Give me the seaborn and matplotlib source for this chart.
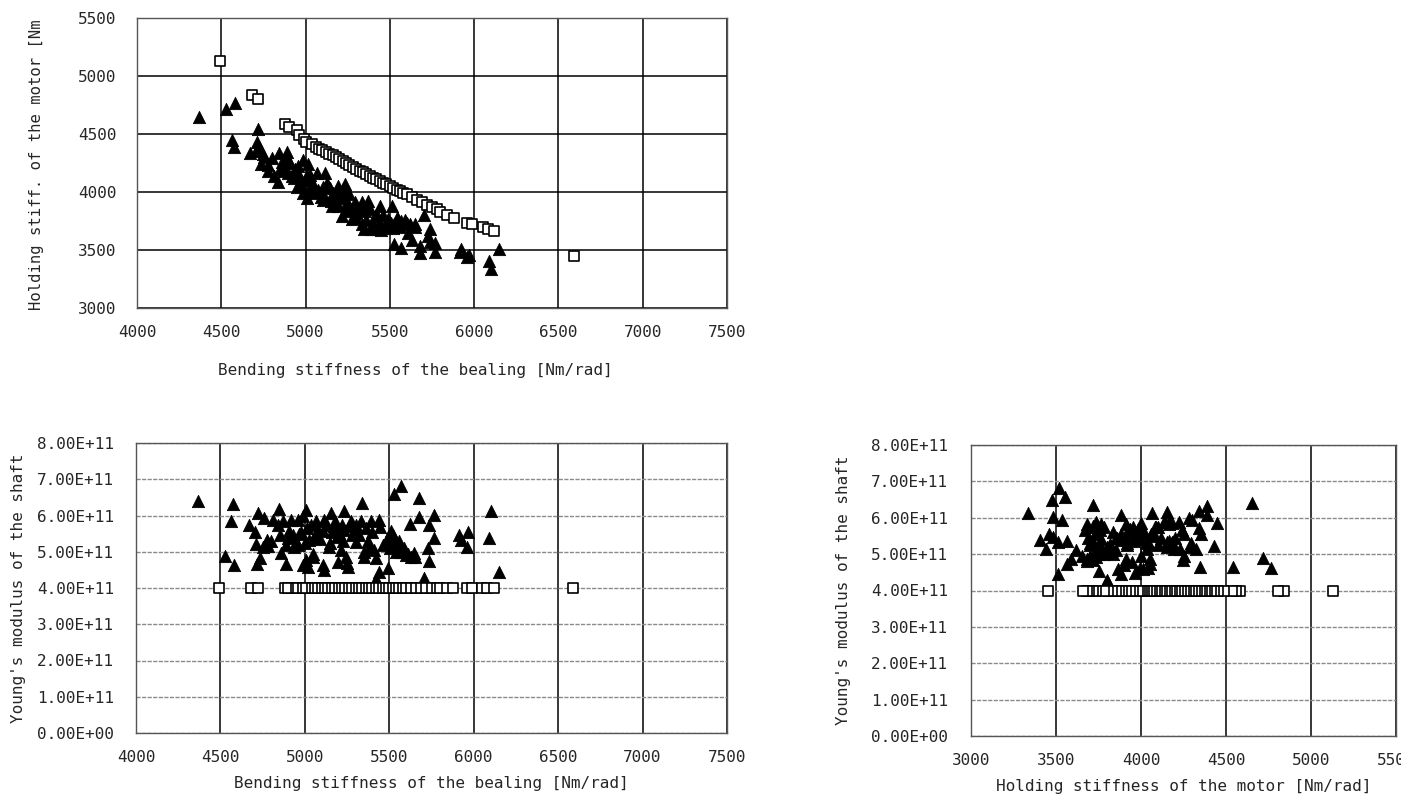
import numpy as np
import pandas as pd
import matplotlib
matplotlib.use("Agg")
import matplotlib.pyplot as plt
from matplotlib.ticker import FuncFormatter, MultipleLocator
from matplotlib.transforms import Bbox, TransformedBbox
import seaborn as sns

# triangles: bending stiffness, holding stiffness [Nm/rad], Young's modulus [x1e11]
tri_bending = [4370, 4530, 4563, 4573, 4580, 4672, 4705, 4711, 4717, 4721,
               4737, 4750, 4756, 4776, 4800, 4810, 4839, 4845, 4859, 4889,
               4898, 4908, 4918, 4938, 4948, 4957, 4967, 4987, 4987, 5007,
               5007, 5013, 5017, 5026, 5046, 5056, 5066, 5105, 5105, 5111,
               5115, 5145, 5155, 5174, 5194, 5204, 5214, 5234, 5234, 5243,
               5253, 5273, 5293, 5302, 5332, 5336, 5348, 5352, 5372, 5391,
               5411, 5421, 5421, 5441, 5441, 5447, 5490, 5494, 5506, 5510,
               5526, 5526, 5546, 5569, 5569, 5599, 5622, 5629, 5648, 5677,
               5677, 5703, 5727, 5737, 5737, 5766, 5766, 5914, 5924, 5959,
               5967, 6090, 6100, 6150,
               4930, 4960, 4975, 5000, 5035, 5075, 5090, 5130, 5160, 5180,
               5190, 5220, 5225, 5260, 5280, 5300, 5320, 5360, 5380, 5400,
               5460, 5480, 5520, 5540, 5560, 5590, 5610, 5650, 4780, 4850,
               4890, 4870, 5250, 5050, 5150]
tri_holding = [4650, 4715, 4445, 4390, 4765, 4340, 4355, 4430, 4540, 4390,
               4245, 4325, 4300, 4180, 4295, 4135, 4090, 4340, 4255, 4345,
               4165, 4250, 4140, 4195, 4045, 4225, 4080, 4280, 3995, 4150,
               3945, 4240, 4010, 4150, 4050, 3995, 4165, 3935, 4040, 3965,
               4165, 4035, 3880, 3935, 4050, 3965, 3795, 4065, 3835, 3910,
               3865, 3765, 3910, 3820, 3910, 3720, 3680, 3835, 3920, 3680,
               3795, 3680, 3800, 3735, 3880, 3670, 3765, 3750, 3735, 3880,
               3550, 3720, 3765, 3520, 3750, 3735, 3720, 3590, 3700, 3478,
               3535, 3800, 3620, 3680, 3565, 3485, 3563, 3483, 3510, 3442,
               3460, 3405, 3333, 3511,
               4120, 4150, 4060, 4100, 4100, 4020, 3960, 4080, 3990, 4000,
               3880, 3950, 4030, 3980, 3850, 3780, 3860, 3760, 3850, 3730,
               3800, 3700, 3690, 3780, 3700, 3760, 3650, 3720, 4230, 4200,
               4290, 4180, 3900, 4000, 3920]
tri_young = [6.41, 4.89, 5.86, 6.32, 4.63, 5.73, 5.54, 5.21, 4.65, 6.07,
             4.84, 5.14, 5.93, 5.33, 5.30, 5.88, 5.75, 6.19, 4.96, 4.65,
             5.37, 5.56, 5.88, 5.14, 5.28, 5.88, 5.49, 5.98, 4.63, 6.16,
             4.77, 5.65, 4.58, 5.33, 4.86, 5.42, 5.84, 5.58, 4.63, 4.49,
             5.88, 5.14, 6.07, 5.70, 4.72, 5.51, 5.05, 6.12, 5.61, 4.86,
             4.58, 5.84, 5.56, 5.28, 5.84, 6.35, 4.86, 5.00, 5.30, 5.84,
             5.05, 4.82, 4.26, 5.88, 4.45, 5.67, 5.42, 4.54, 5.10, 5.56,
             6.58, 5.33, 5.19, 6.81, 5.00, 4.91, 5.76, 4.86, 4.96, 6.49,
             5.95, 4.28, 5.10, 5.75, 4.74, 6.01, 5.37, 5.47, 5.33, 5.14,
             5.54, 5.38, 6.12, 4.45,
             5.45, 5.20, 5.55, 5.25, 5.75, 5.60, 5.35, 5.75, 5.55, 5.85,
             5.40, 5.75, 5.30, 5.70, 5.45, 5.75, 5.45, 5.65, 5.10, 5.55,
             5.20, 5.25, 5.45, 5.00, 5.30, 5.10, 4.95, 4.85, 5.15, 5.45,
             5.20, 5.85, 4.70, 4.95, 5.25]

# squares: nominal design points, Young's modulus fixed at 4.00E+11
sq_bending = [4490, 4680, 4720, 4880, 4900, 4950, 4960, 4990, 5005, 5040,
              5060, 5080, 5100, 5120, 5140, 5160, 5180, 5200, 5220, 5240,
              5260, 5280, 5300, 5320, 5340, 5360, 5380, 5400, 5420, 5440,
              5460, 5480, 5500, 5520, 5540, 5560, 5580, 5600, 5630, 5660,
              5690, 5720, 5750, 5780, 5800, 5840, 5880, 5960, 5990, 6050,
              6080, 6120, 6590]
sq_holding = [5130, 4840, 4805, 4585, 4560, 4535, 4490, 4455, 4430, 4410,
              4390, 4375, 4360, 4345, 4330, 4315, 4300, 4285, 4265, 4250,
              4235, 4215, 4200, 4185, 4170, 4155, 4140, 4125, 4110, 4095,
              4080, 4065, 4050, 4035, 4020, 4005, 3995, 3980, 3955, 3935,
              3910, 3890, 3870, 3850, 3830, 3805, 3780, 3735, 3720, 3695,
              3680, 3660, 3450]
sq_young = 4.0

tri = pd.DataFrame({"bending": tri_bending, "holding": tri_holding,
                    "young": np.array(tri_young) * 1e11})
sq = pd.DataFrame({"bending": sq_bending, "holding": sq_holding})
sq["young"] = sq_young * 1e11

sns.set_style("white")
plt.rcParams['font.family'] = ['DejaVu Sans Mono', 'DejaVu Sans']

W, H = 1401, 798
fig = plt.figure(figsize=(W / 100, H / 100), dpi=100)


def box(l, t, r, b):
    return [l / W, 1 - b / H, (r - l) / W, (b - t) / H]


ax1 = fig.add_axes(box(137, 18, 727, 308))
ax2 = fig.add_axes(box(136, 443, 727, 733))
ax3 = fig.add_axes(box(971, 445, 1396, 736))

panels = [(ax1, "bending", "holding"), (ax2, "bending", "young"), (ax3, "holding", "young")]
for ax, xc, yc in panels:
    sns.scatterplot(data=tri, x=xc, y=yc, ax=ax, marker="^", s=78,
                    color="black", edgecolor="black", linewidth=0.6, zorder=3)
    sns.scatterplot(data=sq, x=xc, y=yc, ax=ax, marker="s", s=48,
                    facecolor="white", edgecolor="black", linewidth=1.2, zorder=4)
    ax.set_axisbelow(True)
    ax.grid(axis="x", color="black", lw=1.1)
    ax.xaxis.set_major_locator(MultipleLocator(500))
    ax.tick_params(length=0, labelsize=11.5, pad=12)
    for sp in ax.spines.values():
        sp.set_color("#555555")
        sp.set_linewidth(1)
    ax.set_ylabel("")

# top left
ax1.set_xlim(4000, 7500)
ax1.set_ylim(3000, 5500)
ax1.yaxis.set_major_locator(MultipleLocator(500))
ax1.tick_params(axis="y", pad=14.5)
ax1.grid(axis="y", color="black", lw=1.1)
ax1.set_xlabel("Bending stiffness of the bealing [Nm/rad]", fontsize=11.5, labelpad=17)
ax1.xaxis.label.set_x((415 - 137) / 590)
t = fig.text(37 / W, 1 - 310 / H, "Holding stiff. of the motor [Nm/rad]",
             rotation=90, ha="center", va="bottom", fontsize=11.25)
t.set_clip_box(TransformedBbox(Bbox([[0, 0], [1, 1 - 20 / H]]), fig.transFigure))
t.set_clip_on(True)

sci = FuncFormatter(lambda v, p: f"{v:.2E}")
for ax in (ax2, ax3):
    ax.set_ylim(0, 8e11)
    ax.yaxis.set_major_locator(MultipleLocator(1e11))
    ax.yaxis.set_major_formatter(sci)
    ax.grid(axis="y", color="#8a8a8a", lw=1, ls=(0, (3, 1)))
    ax.set_ylabel("Young's modulus of the shaft", fontsize=11.5)

ax2.set_xlim(4000, 7500)
ax2.tick_params(axis="y", pad=16)
ax2.set_xlabel("Bending stiffness of the bealing [Nm/rad]", fontsize=11.5, labelpad=8)
ax2.yaxis.set_label_coords((26 - 136) / 591, 0.5)

ax3.set_xlim(3000, 5500)
ax3.tick_params(axis="y", pad=16.5)
ax3.set_xlabel("Holding stiffness of the motor [Nm/rad]", fontsize=11.5, labelpad=8)
ax3.yaxis.set_label_coords((851 - 971) / 425, 0.5)

fig.savefig("out.png", dpi=100)
